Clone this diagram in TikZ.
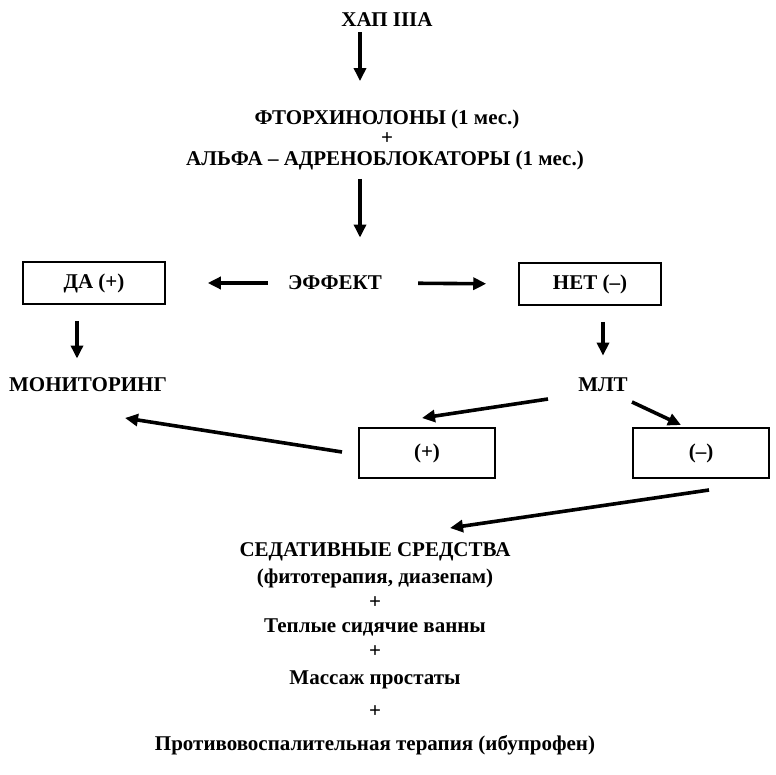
\documentclass[tikz,border=0pt]{standalone}
\usepackage{fontspec}
\setmainfont{Liberation Serif}
\usetikzlibrary{arrows.meta}

\begin{document}
\begin{tikzpicture}[
  x=0.5pt, y=-0.5pt,
  font=\fontsize{10.5}{12.6}\selectfont\bfseries,
  txt/.style={inner sep=0pt, align=center},
  box/.style={draw, line width=0.75pt, minimum width=71pt,
              minimum height=21pt, inner sep=0pt},
  arr/.style={-{Triangle[length=6.5pt, width=6pt]}, line width=1.8pt}]
\useasboundingbox (0,0) rectangle (776,775);
\node[txt] (hap) at (387,20) {ХАП IIIA};
\node[txt] (ftor) at (387,119) {ФТОРХИНОЛОНЫ (1 мес.)};
\node[txt] (plusA) at (387,139) {+};
\node[txt] (alpha) at (385,160) {АЛЬФА -- АДРЕНОБЛОКАТОРЫ (1 мес.)};
\node[txt] (effect) at (335,283) {ЭФФЕКТ};
\node[box] (yes) at (94,283) {ДА (+)};
\node[box] (no) at (590,284) {НЕТ (--)};
\node[txt] (monit) at (88,385) {МОНИТОРИНГ};
\node[txt] (mlt) at (603,385) {МЛТ};
\node[box, minimum width=68pt, minimum height=25pt] (pos) at (427,453) {(+)};
\node[box, minimum width=68pt, minimum height=25pt] (neg) at (701,453) {(--)};
\node[txt] (sed) at (375,552) {СЕДАТИВНЫЕ СРЕДСТВА};
\node[txt] (phyto) at (375,578) {(фитотерапия, диазепам)};
\node[txt] (plusB) at (375,603) {+};
\node[txt] (bath) at (375,627) {Теплые сидячие ванны};
\node[txt] (plusC) at (375,652) {+};
\node[txt] (massage) at (375,680) {Массаж простаты};
\node[txt] (plusD) at (375,712) {+};
\node[txt] (nsaid) at (375,745) {Противовоспалительная терапия (ибупрофен)};
\draw[arr, shorten <=2.5pt, shorten >=14pt]
  ([xshift=-13.5pt]hap.south) -- ([xshift=-13.5pt]hap.south |- ftor.north);
\draw[arr, shorten <=4.5pt, shorten >=19pt]
  ([xshift=-12.5pt]alpha.south) -- ([xshift=-12.5pt]alpha.south |- effect.north);
\draw[arr, shorten <=10pt, shorten >=21pt] (effect.west) -- (yes.east);
\draw[arr, shorten <=18pt, shorten >=16pt] (effect.east) -- (no.west);
\draw[arr, shorten <=8pt, shorten >=9.5pt]
  ([xshift=-8.5pt]yes.south) -- ([xshift=-8.5pt]yes.south |- monit.north);
\draw[arr, shorten <=8pt, shorten >=11pt]
  (no.south -| mlt) -- (mlt.north);
\draw[arr] ([shift={(-55,14)}]mlt.center) -- ([shift={(-5,-35)}]pos.center);
\draw[arr] ([shift={(29,17)}]mlt.center) -- ([shift={(-20,-28)}]neg.center);
\draw[arr] ([shift={(-85,-1)}]pos.center) -- ([shift={(37,33)}]monit.center);
\draw[arr] ([shift={(8,37)}]neg.center) -- ([shift={(75,-24)}]sed.center);
\end{tikzpicture}
\end{document}
